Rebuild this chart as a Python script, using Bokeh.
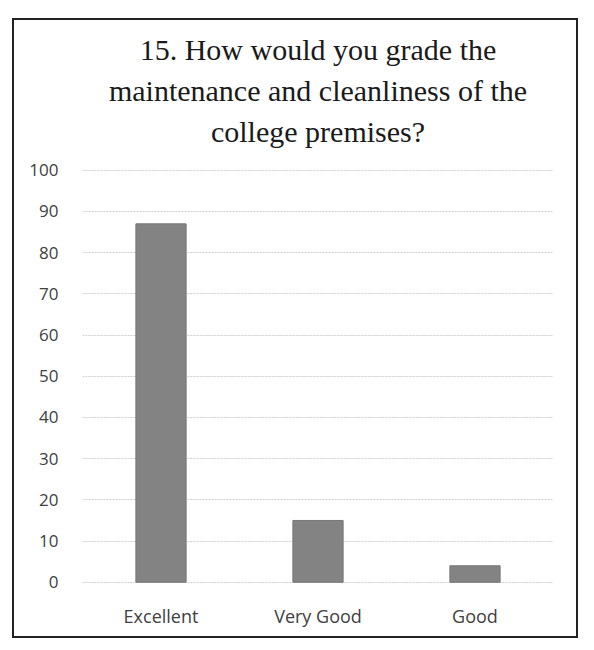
from bokeh.plotting import figure
from bokeh.models import Range1d, FactorRange, Title
from bokeh.embed import file_html
from bokeh.resources import INLINE

categories = ["Excellent", "Very Good", "Good"]
values = [87, 15, 4]
y_ticks = [0, 10, 20, 30, 40, 50, 60, 70, 80, 90, 100]
title_lines = ["15. How would you grade the",
               "maintenance and cleanliness of the",
               "college premises?"]

p = figure(width=566, height=620, x_range=FactorRange(*categories), y_range=Range1d(-0.3, 104.8),
           output_backend="svg", toolbar_location=None, title=None)
p.min_border_left = 68
p.min_border_right = 27
p.min_border_bottom = 57
p.min_border_top = 10
p.outline_line_color = None
p.border_fill_color = "white"
p.styles = {"border": "2px solid #222", "margin-left": "12px", "margin-top": "18px"}

for line in reversed(title_lines):
    t = Title(text=line, align="center", text_font="Liberation Serif", text_font_size="30px",
              text_font_style="normal", text_color="#1a1a1a", standoff=6)
    p.add_layout(t, "above")
p.add_layout(Title(text=" ", text_font_size="4px", standoff=0), "above")

p.vbar(x=categories, top=values, width=0.32, fill_color="#838383", line_color="#777777")

p.yaxis.ticker = y_ticks
p.yaxis.axis_line_color = None
p.yaxis.major_tick_line_color = None
p.yaxis.minor_tick_line_color = None
p.yaxis.major_label_text_font = "Open Sans"
p.yaxis.major_label_text_font_size = "17px"
p.yaxis.major_label_text_color = "#404040"
p.yaxis.major_label_standoff = 18

p.xaxis.axis_line_color = None
p.xaxis.major_tick_line_color = None
p.xaxis.major_label_text_font = "Open Sans"
p.xaxis.major_label_text_font_size = "18px"
p.xaxis.major_label_text_color = "#404040"
p.xaxis.major_label_standoff = 14

p.xgrid.grid_line_color = None
p.ygrid.grid_line_color = "#d0d0d0"
p.ygrid.grid_line_dash = "2 1"

open("out.html", "w").write(file_html(p, INLINE))
